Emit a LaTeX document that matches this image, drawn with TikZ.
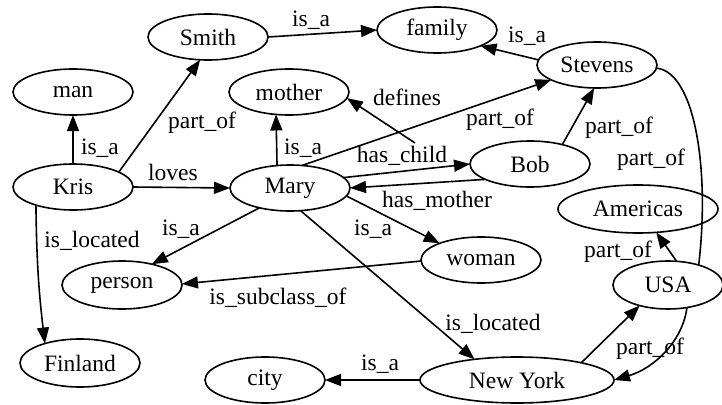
\documentclass[tikz,border=0pt]{standalone}
\usepackage{fontspec}
\setmainfont{Liberation Serif}
\newfontfamily\conceptfont{Liberation Serif}
\usetikzlibrary{shapes.geometric,arrows.meta}
\begin{document}
\begin{tikzpicture}[x=1pt,y=-1pt,
  concept/.style={draw, ellipse, line width=1.6pt, inner sep=0pt, outer sep=0pt,
    minimum width=120pt, minimum height=46pt, font=\conceptfont\fontsize{23.5}{28}\selectfont},
  rel/.style={line width=1.6pt, -{Triangle[length=16pt,width=12pt]}},
  plainrel/.style={line width=1.6pt},
  lbl/.style={anchor=base, inner sep=0pt, font=\conceptfont\fontsize{23.5}{28}\selectfont}]
\useasboundingbox (0,0) rectangle (722,404);

% concepts
\node[concept] (smith)    at (208,37)  {Smith};
\node[concept] (family)   at (437,30)  {family};
\node[concept] (man)      at (73,92)   {man};
\node[concept] (mother)   at (289,92)  {mother};
\node[concept] (stevens)  at (597,65)  {Stevens};
\node[concept] (kris)     at (73,187)  {Kris};
\node[concept] (mary)     at (290,188) {Mary};
\node[concept] (bob)      at (530,164) {Bob};
\node[concept, minimum width=160pt, minimum height=48pt] (americas) at (638,209) {Americas};
\node[concept] (woman)    at (481,260) {woman};
\node[concept, minimum height=48pt] (person) at (122,285) {person};
\node[concept, minimum width=110pt, minimum height=48pt] (usa) at (668,285) {USA};
\node[concept, minimum height=48pt] (finland) at (80,363) {Finland};
\node[concept] (city)     at (265,380) {city};
\node[concept, minimum width=194pt] (newyork) at (517,380) {New York};

\coordinate (childlink) at (415,143);

% relations
\draw[rel] (smith.0) -- (family.180);
\draw[rel] (stevens.175) -- (family.-20);
\draw[rel] (kris.90) -- (man.270);
\draw[rel] (kris.18) -- (smith.251);
\draw[rel] (kris.0) -- (mary.180);
\draw[rel] (kris.206) to[bend right=3] (finland.151);
\draw[rel] (mary.120) -- (mother.240);
\draw[rel] (mary.62) -- (stevens.198);
\draw[rel] (childlink) -- (mother.-6);
\draw[rel] (mary.11) -- (bob.180);
\draw[rel] (bob.199) -- (mary.0);
\draw[rel] (mary.-8) -- (woman.158);
\draw[rel] (mary.213) -- (person.35);
\draw[rel] (mary.-65) -- (newyork.154);
\draw[rel] (woman.181) -- (person.1);
\draw[rel] (bob.31) -- (stevens.263);
\draw[plainrel] (stevens.-3) .. controls (695,72) and (710,170) .. (usa.33);
\draw[rel] (usa.70) -- (americas.-52);
\draw[rel] (newyork.15) -- (usa.216);
\draw[rel] (usa.-50) .. controls (683,340) and (655,368) .. (newyork.0);
\draw[rel] (newyork.180) -- (city.0);

% relation labels
\node[lbl] (l1)  at (311,27)  {is\_a};
\node[lbl] (l2)  at (527,43)  {is\_a};
\node[lbl] (l3)  at (100,154) {is\_a};
\node[lbl] (l4)  at (202,128) {part\_of};
\node[lbl] (l5)  at (173,180) {loves};
\node[lbl] (l6)  at (303,154) {is\_a};
\node[lbl] (l7)  at (92,247)  {is\_located};
\node[lbl] (l8)  at (181,235) {is\_a};
\node[lbl] (l9)  at (278,304) {is\_subclass\_of};
\node[lbl] (l10) at (407,105) {defines};
\node[lbl] (l11) at (500,125) {part\_of};
\node[lbl] (l12) at (402,162) {has\_child};
\node[lbl] (l13) at (437,207) {has\_mother};
\node[lbl] (l14) at (373,235) {is\_a};
\node[lbl] (l15) at (619,133) {part\_of};
\node[lbl] (l16) at (651,165) {part\_of};
\node[lbl] (l17) at (618,257) {part\_of};
\node[lbl] (l18) at (493,330) {is\_located};
\node[lbl] (l19) at (650,354) {part\_of};
\node[lbl] (l20) at (380,370) {is\_a};
\end{tikzpicture}
\end{document}
